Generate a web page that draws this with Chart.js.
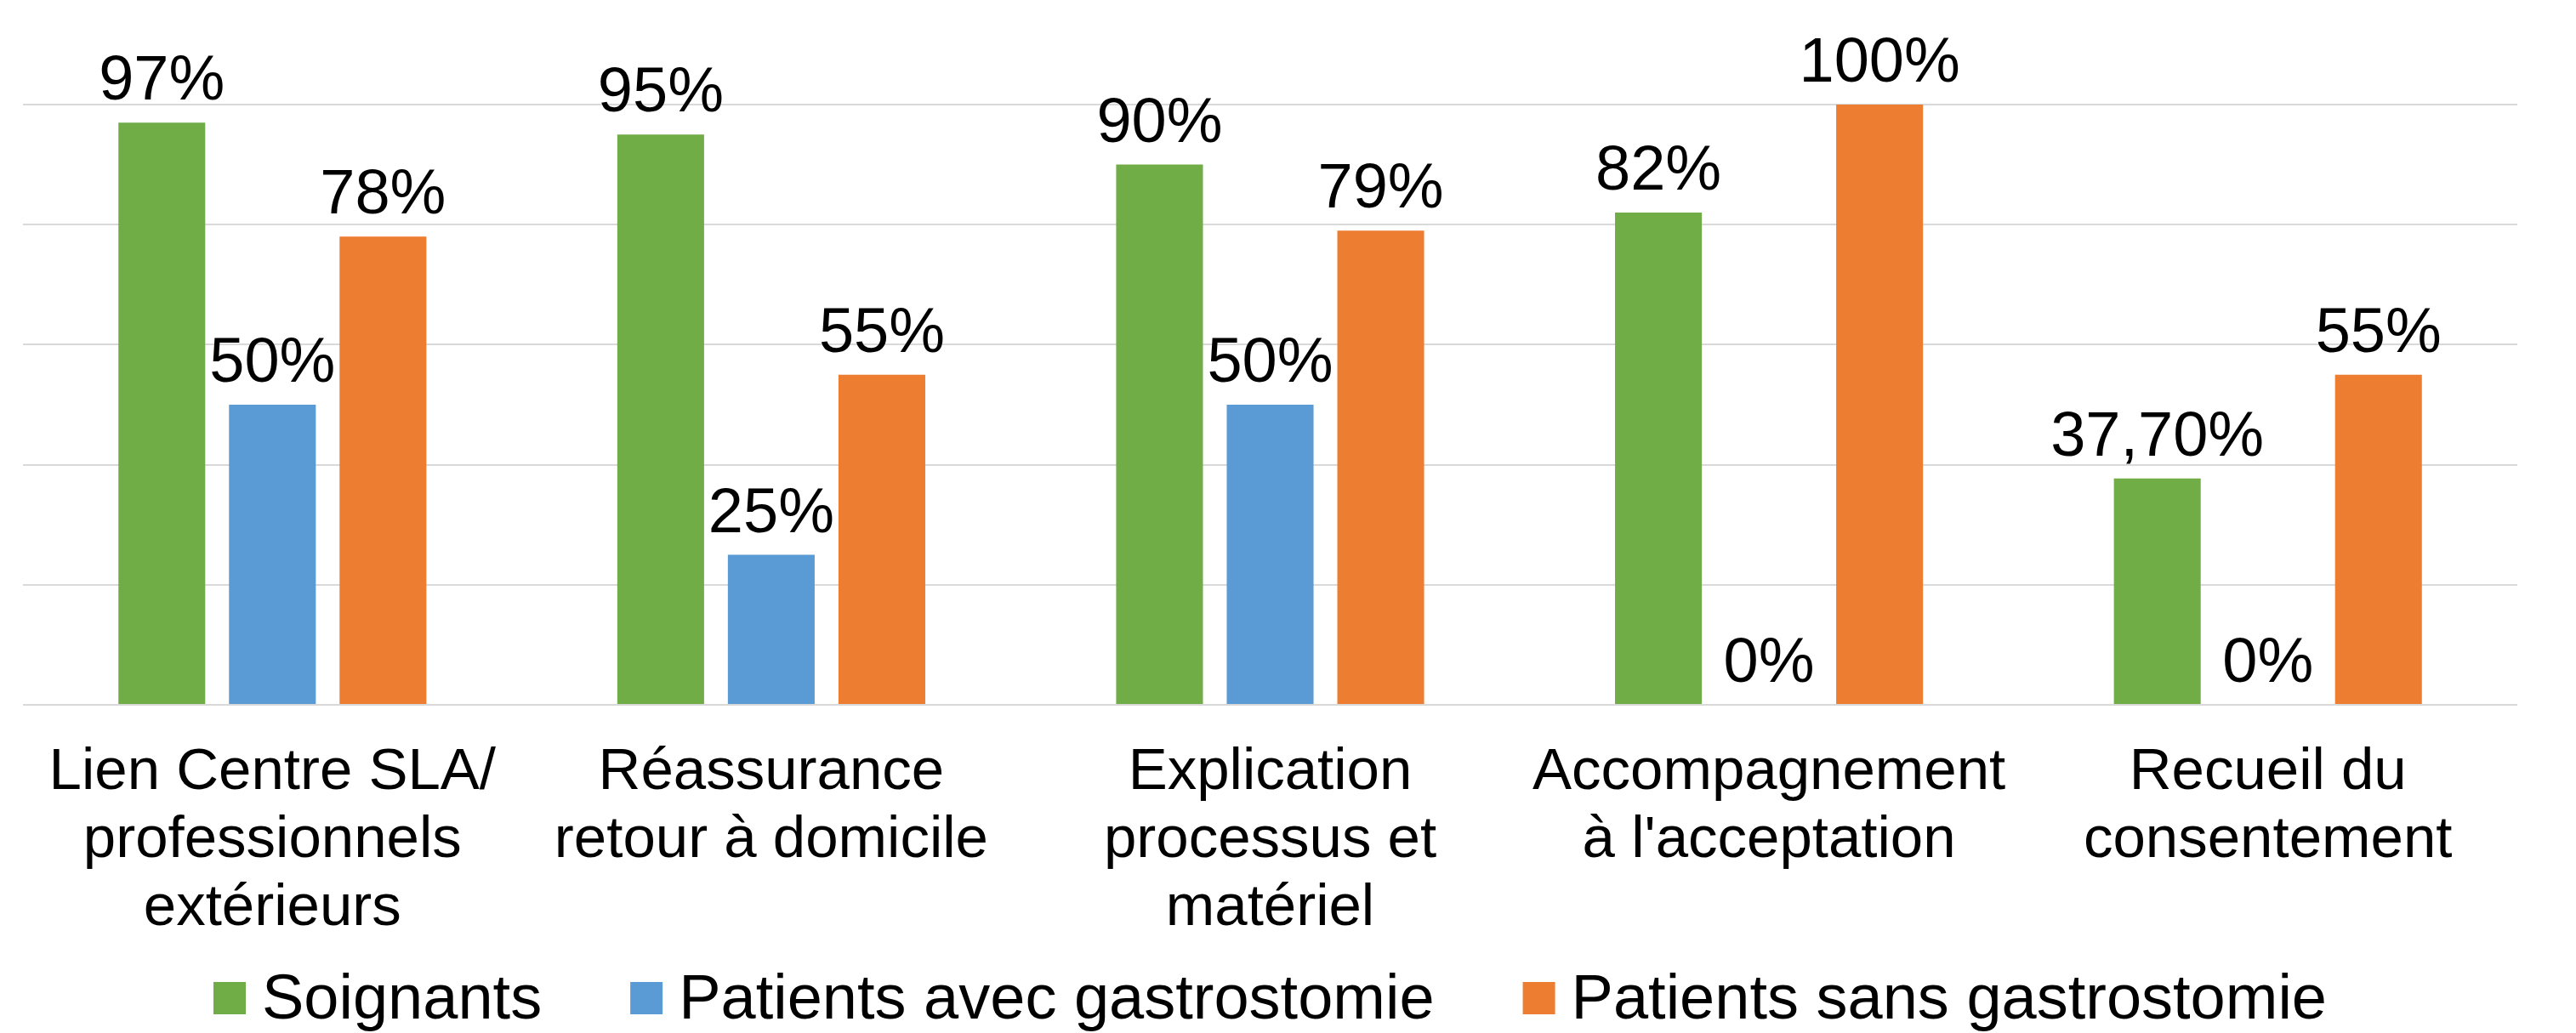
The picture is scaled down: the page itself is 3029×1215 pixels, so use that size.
<!DOCTYPE html>
<html>
<head>
<meta charset="utf-8">
<script src="https://cdn.jsdelivr.net/npm/chart.js@4"></script>
<style>
  html, body { margin: 0; padding: 0; background: #ffffff; }
  canvas { display: block; }
</style>
</head>
<body>
<canvas id="chart" width="3029" height="1215"></canvas>
<script>
// Categories (multi-line axis labels)
const categories = [
  ['Lien Centre SLA/', 'professionnels', 'extérieurs'],
  ['Réassurance', 'retour à domicile'],
  ['Explication', 'processus et', 'matériel'],
  ['Accompagnement', "à l'acceptation"],
  ['Recueil du', 'consentement']
];

// Series names and values (percent)
const seriesNames = ['Soignants', 'Patients avec gastrostomie', 'Patients sans gastrostomie'];
const soignants    = [97, 95, 90, 82, 37.7];
const patientsAvec = [50, 25, 50, 0, 0];
const patientsSans = [78, 55, 79, 100, 55];
const seriesColors = ['#70AD47', '#5B9BD5', '#ED7D31'];

// Value axis range
const yMin = 0;
const yMax = 100;
const yStep = 20;

const FONT = '"Liberation Sans", Arial, Helvetica, sans-serif';

function formatPct(v) {
  if (Number.isInteger(v)) return v + '%';
  return v.toFixed(2).replace('.', ',') + '%';
}

// Value labels above each bar
const valueLabels = {
  id: 'valueLabels',
  afterDatasetsDraw(chart) {
    const ctx = chart.ctx;
    ctx.save();
    ctx.font = '74px ' + FONT;
    ctx.fillStyle = '#000000';
    ctx.textAlign = 'center';
    ctx.textBaseline = 'alphabetic';
    chart.data.datasets.forEach((ds, i) => {
      const meta = chart.getDatasetMeta(i);
      meta.data.forEach((bar, j) => {
        ctx.fillText(formatPct(ds.data[j]), bar.x, bar.y - 27);
      });
    });
    ctx.restore();
  }
};

// Legend row centred under the plot
const legendRow = {
  id: 'legendRow',
  afterDraw(chart) {
    const ctx = chart.ctx;
    const area = chart.chartArea;
    const box = 38, gap = 19, spacing = 104;
    ctx.save();
    ctx.font = '74px ' + FONT;
    ctx.textAlign = 'left';
    ctx.textBaseline = 'alphabetic';
    const items = chart.data.datasets.map(ds => ({
      text: ds.label,
      color: ds.backgroundColor,
      w: box + gap + ctx.measureText(ds.label).width
    }));
    const total = items.reduce((s, it) => s + it.w, 0) + spacing * (items.length - 1);
    let x = (area.left + area.right) / 2 - total / 2;
    const boxTop = chart.height - 60;
    const baseY = chart.height - 17;
    items.forEach(it => {
      ctx.fillStyle = it.color;
      ctx.fillRect(x, boxTop, box, box);
      ctx.fillStyle = '#000000';
      ctx.fillText(it.text, x + box + gap, baseY);
      x += it.w + spacing;
    });
    ctx.restore();
  }
};

const values = [soignants, patientsAvec, patientsSans];

new Chart(document.getElementById('chart'), {
  type: 'bar',
  data: {
    labels: categories,
    datasets: seriesNames.map((name, i) => ({
      label: name,
      data: values[i],
      backgroundColor: seriesColors[i],
      borderWidth: 0,
      categoryPercentage: 0.665,
      barPercentage: 0.785
    }))
  },
  options: {
    responsive: false,
    animation: false,
    devicePixelRatio: 1,
    layout: { padding: { left: 27, right: 69, top: 123, bottom: 0 } },
    plugins: {
      legend: { display: false },
      tooltip: { enabled: false },
      title: { display: false }
    },
    scales: {
      x: {
        grid: { display: false, drawTicks: false },
        border: { display: false },
        ticks: {
          color: '#000000',
          padding: 40,
          font: { family: FONT, size: 69, lineHeight: 80 / 69 },
          maxRotation: 0,
          autoSkip: false
        },
        afterFit(scale) { scale.height = 386; }
      },
      y: {
        min: yMin,
        max: yMax,
        ticks: { display: false, stepSize: yStep },
        grid: { color: '#D9D9D9', lineWidth: 2, drawTicks: false },
        border: { display: false }
      }
    }
  },
  plugins: [valueLabels, legendRow]
});
</script>
</body>
</html>
